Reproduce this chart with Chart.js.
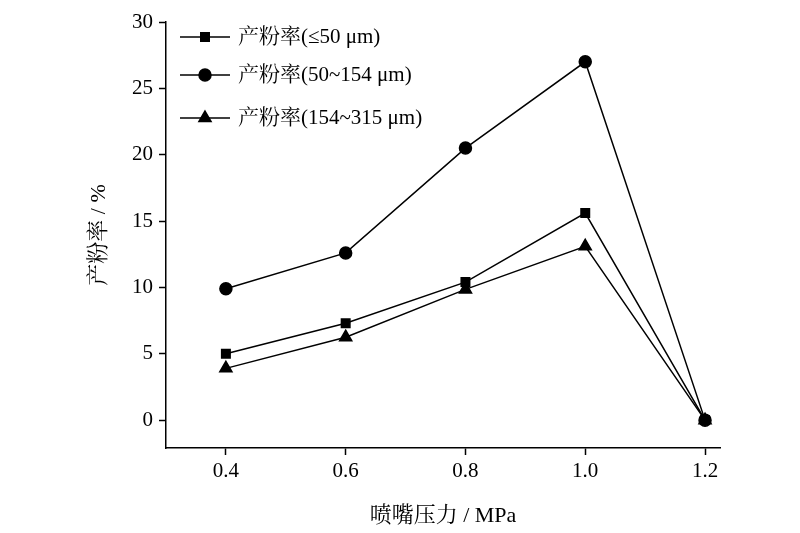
<!DOCTYPE html>
<html><head><meta charset="utf-8">
<script src="https://cdn.jsdelivr.net/npm/chart.js@4"></script>
<style>html,body{margin:0;background:#fff}#c{width:800px;height:533px}</style>
</head><body><div id="c"><canvas id="cv" width="800" height="533"></canvas></div>
<script>
const pressures = [0.4, 0.6, 0.8, 1.0, 1.2];
const rateFine = [5.0, 7.3, 10.4, 15.6, 0];
const rateMid = [9.9, 12.6, 20.5, 27.0, 0];
const rateCoarse = [3.9, 6.25, 9.85, 13.1, 0];
const seriesNames = ["产粉率(≤50 μm)", "产粉率(50~154 μm)", "产粉率(154~315 μm)"];
const xTicks = [0.4, 0.6, 0.8, 1.0, 1.2];
const yTicks = [0, 5, 10, 15, 20, 25, 30];

const FONT = "'Liberation Serif', 'Noto Serif CJK SC', 'Noto Sans CJK SC', serif";
const styles = ["rect", "circle", "triangle"];
const radii = [6, 6, 7];
const pts = (ys) => pressures.map((x, i) => ({ x, y: ys[i] }));

const legendPlugin = {
  id: "ownLegend",
  afterDraw(chart) {
    const ctx = chart.ctx;
    const rows = [37, 75, 118];
    ctx.save();
    ctx.font = "21px " + FONT;
    ctx.textBaseline = "middle";
    rows.forEach((y, i) => {
      ctx.strokeStyle = "#000";
      ctx.fillStyle = "#000";
      ctx.lineWidth = 1.5;
      ctx.beginPath(); ctx.moveTo(180, y); ctx.lineTo(230, y); ctx.stroke();
      Chart.helpers.drawPoint(ctx, { pointStyle: styles[i], radius: radii[i], borderWidth: 1 }, 205, y);
      ctx.fillText(seriesNames[i], 238, y);
    });
    ctx.restore();
  }
};

const axisGrid = { display: true, drawOnChartArea: false, drawTicks: true, tickLength: 7, tickColor: "#000", tickWidth: 1.5 };

new Chart(document.getElementById("cv"), {
  type: "line",
  data: {
    datasets: [rateFine, rateMid, rateCoarse].map((d, i) => ({
      label: seriesNames[i],
      data: pts(d),
      borderColor: "#000",
      backgroundColor: "#000",
      borderWidth: 1.5,
      pointStyle: styles[i],
      pointRadius: radii[i],
      pointBackgroundColor: "#000",
      tension: 0
    }))
  },
  options: {
    responsive: false,
    animation: false,
    layout: { padding: { top: 22, right: 80, left: 82, bottom: 0 } },
    plugins: { legend: { display: false }, tooltip: { enabled: false } },
    scales: {
      x: {
        type: "linear", min: 0.3, max: 1.225,
        afterBuildTicks: (s) => { s.ticks = xTicks.map((v) => ({ value: v })); },
        afterFit: (s) => { s.height = 85; },
        grid: axisGrid,
        border: { color: "#000", width: 1.5 },
        ticks: { color: "#000", font: { family: FONT, size: 21 }, callback: (v) => v.toFixed(1), padding: 4 },
        title: { display: true, text: "喷嘴压力 / MPa", color: "#000", font: { family: FONT, size: 22 }, padding: { top: 6 } }
      },
      y: {
        type: "linear", min: -2.1, max: 30,
        afterBuildTicks: (s) => { s.ticks = yTicks.map((v) => ({ value: v })); },
        afterFit: (s) => { s.width = 84; },
        grid: axisGrid,
        border: { color: "#000", width: 1.5 },
        ticks: { color: "#000", font: { family: FONT, size: 21 }, padding: 6 },
        title: { display: true, text: "产粉率 / %", color: "#000", font: { family: FONT, size: 22 }, padding: { bottom: 4 } }
      }
    }
  },
  plugins: [legendPlugin]
});
</script></body></html>
